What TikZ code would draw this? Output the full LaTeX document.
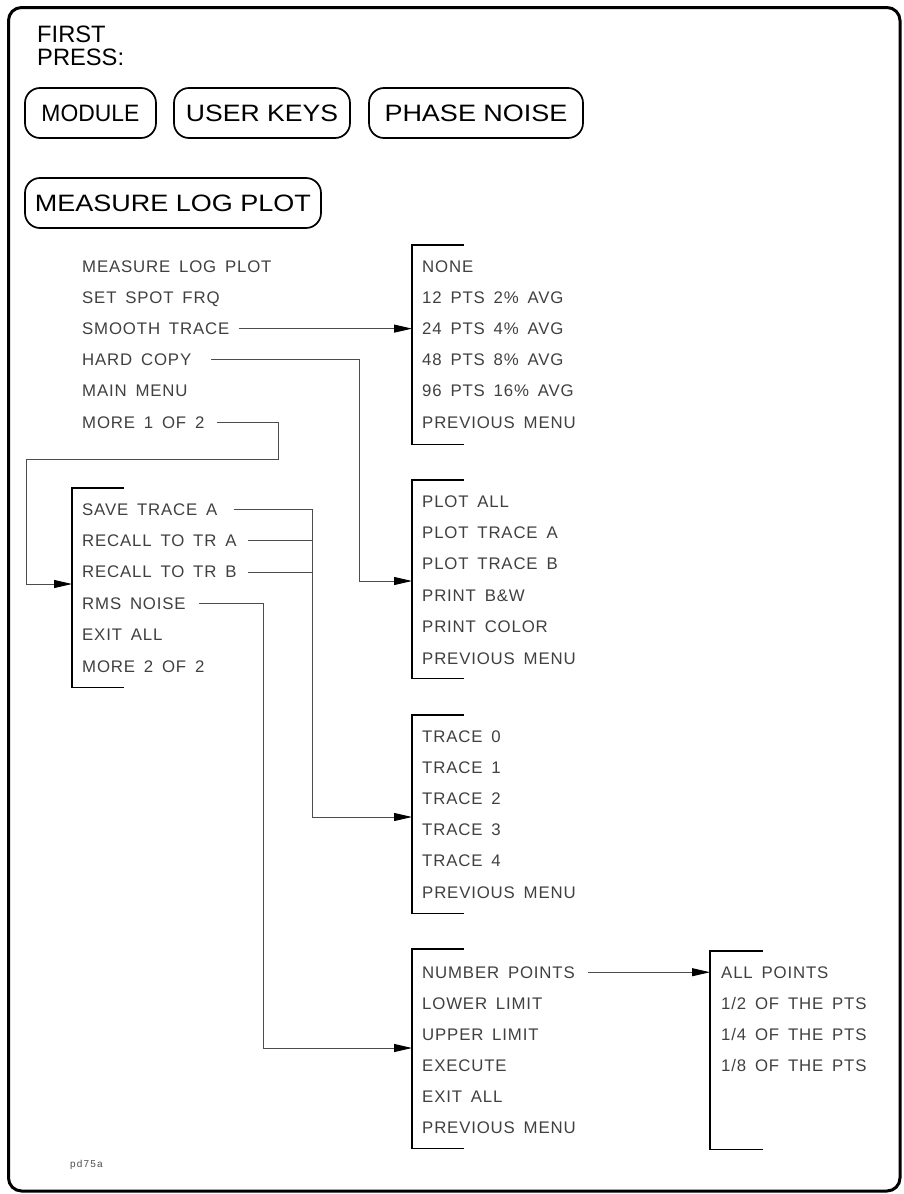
\documentclass[tikz,border=0pt]{standalone}
\usepackage{fontspec}
\usepackage{graphicx}
\setmainfont{Liberation Sans}
\newfontfamily\menufont[LetterSpace=5,WordSpace=1.6]{Liberation Sans}
\newfontfamily\keyfont{Liberation Sans}
\newfontfamily\tagfont[LetterSpace=12]{Liberation Sans}
\usetikzlibrary{arrows.meta}
\tikzset{
  menuitem/.style={anchor=base west, inner sep=0pt, font=\menufont\fontsize{16.8}{18}\selectfont, text=black!75},
  keybox/.style={draw, line width=1.7pt, rounded corners=15pt, minimum height=50pt, inner sep=0pt, font=\keyfont\fontsize{23.7}{26}\selectfont},
  headtext/.style={anchor=base west, inner sep=0pt, font=\keyfont\fontsize{23.7}{26}\selectfont},
  bracketbox/.style={inner sep=0pt, minimum width=51pt, anchor=north west},
  bracketline/.style={line width=1.8pt, line cap=rect},
  conn/.style={line width=0.9pt, draw=black!70},
  arr/.style={conn, -{Triangle[length=18pt,width=8pt,color=black]}},
  frame/.style={line width=3pt, rounded corners=13pt}
}
\newcommand{\wfit}[2]{\resizebox{#1}{\height}{#2}}
\begin{document}
\begin{tikzpicture}[x=1pt,y=-1pt]
\useasboundingbox (0,0) rectangle (904,1194);
\draw[frame] (8.5,7.5) rectangle (900,1191);

% header
\node[headtext] (first) at (37,42) {FIRST};
\node[headtext] (press) at (37,65) {PRESS:};

% keys
\node[keybox, minimum width=131pt] (kmod) at (90.5,113) {\wfit{98pt}{MODULE}};
\node[keybox, minimum width=176pt] (kuser) at (262,113) {\wfit{152pt}{USER KEYS}};
\node[keybox, minimum width=214pt] (kphase) at (476,113) {\wfit{183pt}{PHASE NOISE}};
\node[keybox, minimum width=296pt] (kmeas) at (173,203) {\wfit{276pt}{MEASURE LOG PLOT}};

% menu 1 (no bracket)
\node[menuitem] (m1a) at (82,272) {MEASURE LOG PLOT};
\node[menuitem] (m1b) at (82,303.2) {SET SPOT FRQ};
\node[menuitem] (m1c) at (82,334.4) {SMOOTH TRACE};
\node[menuitem] (m1d) at (82,365.6) {HARD COPY};
\node[menuitem] (m1e) at (82,396.8) {MAIN MENU};
\node[menuitem] (m1f) at (82,428) {MORE 1 OF 2};

% bracket 1: smoothing
\node[bracketbox, minimum height=199pt] (b1) at (412,245) {};
\draw[bracketline] (b1.north east) -- (b1.north west) -- (b1.south west) -- (b1.south east);
\node[menuitem] (s1) at (422,272) {NONE};
\node[menuitem] (s2) at (422,303.2) {12 PTS 2\% AVG};
\node[menuitem] (s3) at (422,334.4) {24 PTS 4\% AVG};
\node[menuitem] (s4) at (422,365.6) {48 PTS 8\% AVG};
\node[menuitem] (s5) at (422,396.8) {96 PTS 16\% AVG};
\node[menuitem] (s6) at (422,428) {PREVIOUS MENU};

% bracket 2: hard copy
\node[bracketbox, minimum height=198pt] (b2) at (412,480) {};
\draw[bracketline] (b2.north east) -- (b2.north west) -- (b2.south west) -- (b2.south east);
\node[menuitem] (h1) at (422,507) {PLOT ALL};
\node[menuitem] (h2) at (422,538.4) {PLOT TRACE A};
\node[menuitem] (h3) at (422,569.8) {PLOT TRACE B};
\node[menuitem] (h4) at (422,601.2) {PRINT B\&W};
\node[menuitem] (h5) at (422,632.6) {PRINT COLOR};
\node[menuitem] (h6) at (422,664) {PREVIOUS MENU};

% bracket 3: more 2 of 2
\node[bracketbox, minimum height=199pt] (b3) at (72,488) {};
\draw[bracketline] (b3.north east) -- (b3.north west) -- (b3.south west) -- (b3.south east);
\node[menuitem] (m3a) at (82,515) {SAVE TRACE A};
\node[menuitem] (m3b) at (82,546.4) {RECALL TO TR A};
\node[menuitem] (m3c) at (82,577.8) {RECALL TO TR B};
\node[menuitem] (m3d) at (82,609.2) {RMS NOISE};
\node[menuitem] (m3e) at (82,640.6) {EXIT ALL};
\node[menuitem] (m3f) at (82,672) {MORE 2 OF 2};

% bracket 4: traces
\node[bracketbox, minimum height=198pt] (b4) at (412,715) {};
\draw[bracketline] (b4.north east) -- (b4.north west) -- (b4.south west) -- (b4.south east);
\node[menuitem] (t0) at (422,742) {TRACE 0};
\node[menuitem] (t1) at (422,773.2) {TRACE 1};
\node[menuitem] (t2) at (422,804.4) {TRACE 2};
\node[menuitem] (t3) at (422,835.6) {TRACE 3};
\node[menuitem] (t4) at (422,866.8) {TRACE 4};
\node[menuitem] (t5) at (422,898) {PREVIOUS MENU};

% bracket 5: rms noise
\node[bracketbox, minimum height=199pt] (b5) at (412,949) {};
\draw[bracketline] (b5.north east) -- (b5.north west) -- (b5.south west) -- (b5.south east);
\node[menuitem] (m5a) at (422,978) {NUMBER POINTS};
\node[menuitem] (m5b) at (422,1009) {LOWER LIMIT};
\node[menuitem] (m5c) at (422,1040) {UPPER LIMIT};
\node[menuitem] (m5d) at (422,1071) {EXECUTE};
\node[menuitem] (m5e) at (422,1102) {EXIT ALL};
\node[menuitem] (m5f) at (422,1133) {PREVIOUS MENU};

% bracket 6: number points
\node[bracketbox, minimum width=52pt, minimum height=198pt] (b6) at (710,951) {};
\draw[bracketline] (b6.north east) -- (b6.north west) -- (b6.south west) -- (b6.south east);
\node[menuitem] (n1) at (721,978) {ALL POINTS};
\node[menuitem] (n2) at (721,1009) {1/2 OF THE PTS};
\node[menuitem] (n3) at (721,1040) {1/4 OF THE PTS};
\node[menuitem] (n4) at (721,1071) {1/8 OF THE PTS};

% figure tag
\node[anchor=base west, inner sep=0pt, font=\tagfont\fontsize{10}{12}\selectfont, text=black!70] (tag) at (70,1167) {pd75a};

% connectors
\coordinate (hcturn) at (359,581);
\coordinate (mA) at (278,459);
\coordinate (mB) at (26,584);
\coordinate (sv) at (312,817);
\coordinate (rm) at (263,1048);

\draw[arr] ([xshift=10pt]m1c.east) -- (m1c.east -| b1.west);
\draw[arr] ([xshift=20pt]m1d.east) -| (hcturn) -- (hcturn -| b2.west);
\draw[arr] ([xshift=12pt]m1f.east) -| (mA) -| (mB) -- (mB -| b3.west);
\draw[arr] ([xshift=16pt]m3a.east) -| (sv) -- (sv -| b4.west);
\draw[conn] ([xshift=11pt]m3b.east) -- (m3b.east -| sv);
\draw[conn] ([xshift=11pt]m3c.east) -- (m3c.east -| sv);
\draw[arr] ([xshift=13pt]m3d.east) -| (rm) -- (rm -| b5.west);
\draw[arr] ([xshift=13pt]m5a.east) -- (m5a.east -| b6.west);
\end{tikzpicture}
\end{document}
